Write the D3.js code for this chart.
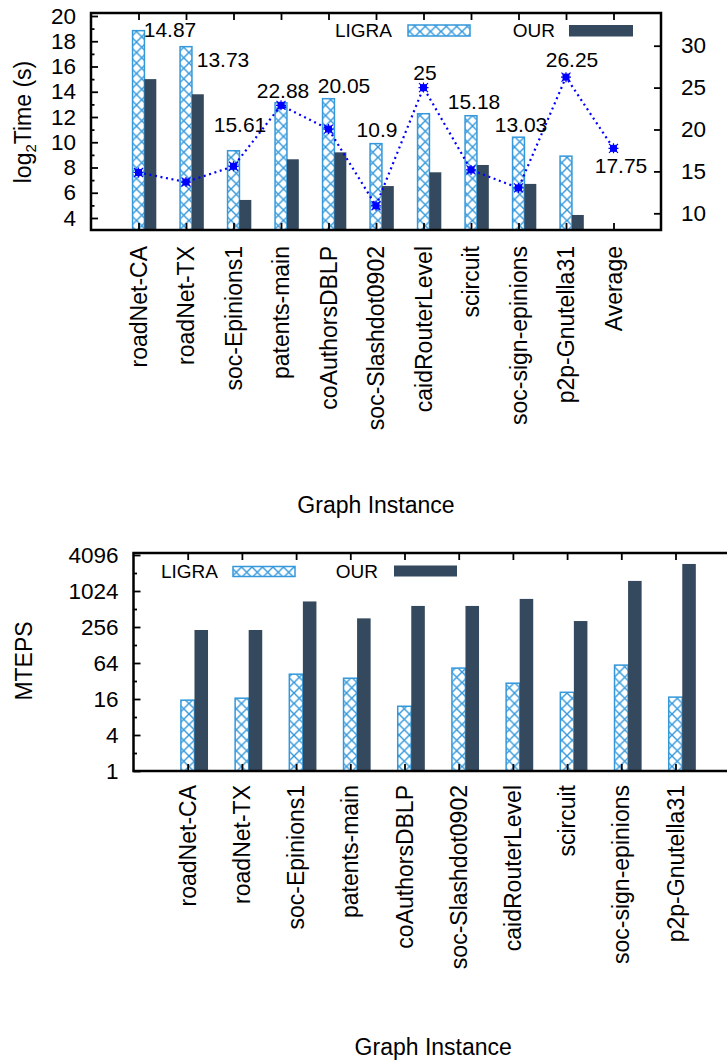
<!DOCTYPE html>
<html>
<head>
<meta charset="utf-8">
<script src="https://cdn.jsdelivr.net/npm/d3@7"></script>
<style>
  body { margin: 0; background: #fff; }
  svg { display: block; }
</style>
</head>
<body>
<div class="chart"></div>
<script>
// graph instances (top chart has an extra "Average" column)
var categories = ["roadNet-CA", "roadNet-TX", "soc-Epinions1", "patents-main", "coAuthorsDBLP",
  "soc-Slashdot0902", "caidRouterLevel", "scircuit", "soc-sign-epinions", "p2p-Gnutella31", "Average"];
var mtepsCategories = categories.slice(0, 10);

// top chart: log2 of run time, and speedup on the right axis
var ligraLog2Time = [18.84, 17.57, 9.33, 13.13, 13.45, 9.89, 12.26, 12.1, 10.4, 8.9, null];
var ourLog2Time = [15.0, 13.8, 5.43, 8.65, 9.2, 6.53, 7.62, 8.2, 6.7, 4.24, null];
var speedup = [14.87, 13.73, 15.61, 22.88, 20.05, 10.9, 25, 15.18, 13.03, 26.25, 17.75];

// bottom chart: MTEPS
var ligraMteps = [15.3, 16.5, 41.6, 35.6, 12.1, 52.6, 29.4, 20.7, 59, 17.2];
var ourMteps = [228, 228, 685, 357, 576, 576, 755, 322, 1510, 2900];

// tick labels
var leftTicks = [4, 6, 8, 10, 12, 14, 16, 18, 20];
var leftMinor = [5, 7, 9, 11, 13, 15, 17, 19];
var rightTicks = [10, 15, 20, 25, 30];
var mtepsTicks = [1, 4, 16, 64, 256, 1024, 4096];
var mtepsMinor = [2, 8, 32, 128, 512, 2048];

// where the speedup labels sit (px shift right, height in right-axis units)
var labelDx = [31.5, 37, 6.5, 2, 15.5, 1, 1.5, 3, 2.5, 6, 7.5];
var labelAt = [31.87, 28.29, 20.54, 24.59, 25.19, 19.94, 26.74, 23.28, 20.54, 28.29, 15.65];

var FONT = "'Liberation Sans', Arial, Helvetica, sans-serif";
var BLUE = "#3498db", DARK = "#34495e";

var svg = d3.select(".chart").append("svg")
    .attr("width", 727)
    .attr("height", 1061)
    .style("font-family", FONT);

svg.append("rect").attr("width", 727).attr("height", 1061).attr("fill", "#fff");

// cross hatch for the LIGRA bars
var pat = svg.append("defs").append("pattern")
    .attr("id", "hatch")
    .attr("patternUnits", "userSpaceOnUse")
    .attr("width", 10.5)
    .attr("height", 10.5);
pat.append("rect").attr("width", 10.5).attr("height", 10.5).attr("fill", "#fff");
pat.append("path")
    .attr("d", "M0,0L10.5,10.5M10.5,0L0,10.5")
    .attr("stroke", BLUE)
    .attr("stroke-width", 1.4);

function styleAxis(g, size) {
  g.attr("font-size", size).attr("font-family", FONT);
  g.select(".domain").remove();
  g.selectAll(".tick line").attr("stroke", "#000").attr("stroke-width", 1.8);
  g.selectAll(".tick text").attr("fill", "#000");
}

// ---------------- top chart ----------------
var top0 = 13, bot0 = 230, left0 = 91, right0 = 661;

var xTop = d3.scaleLinear().domain([-1, 11]).range([left0, right0]);
var yLeft = d3.scaleLinear().domain([4, 20]).range([218, 16]);
var yRight = d3.scaleLinear().domain([10, 30]).range([213.3, 45.7]);

var bw = xTop(0.25) - xTop(0);

var g1 = svg.append("g");

// LIGRA bars
g1.append("g").selectAll("rect")
  .data(categories.map(function(c, i) { return {i: i, v: ligraLog2Time[i]}; })
    .filter(function(d) { return d.v != null; }))
  .enter().append("rect")
    .attr("x", function(d) { return xTop(d.i) - bw / 2; })
    .attr("y", function(d) { return yLeft(d.v); })
    .attr("width", bw)
    .attr("height", function(d) { return bot0 - yLeft(d.v); })
    .attr("fill", "url(#hatch)")
    .attr("stroke", BLUE)
    .attr("stroke-width", 1.5);

// OUR bars
g1.append("g").selectAll("rect")
  .data(categories.map(function(c, i) { return {i: i, v: ourLog2Time[i]}; })
    .filter(function(d) { return d.v != null; }))
  .enter().append("rect")
    .attr("x", function(d) { return xTop(d.i) + bw / 2; })
    .attr("y", function(d) { return yLeft(d.v); })
    .attr("width", bw)
    .attr("height", function(d) { return bot0 - yLeft(d.v); })
    .attr("fill", DARK);

// speedup line
var line = d3.line()
    .x(function(d, i) { return xTop(i); })
    .y(function(d) { return yRight(d); });

g1.append("path")
    .datum(speedup)
    .attr("fill", "none")
    .attr("stroke", "#0000ff")
    .attr("stroke-width", 2.2)
    .attr("stroke-dasharray", "2,3.6")
    .attr("d", line);

var marks = g1.append("g").selectAll("g")
  .data(speedup)
  .enter().append("g")
    .attr("transform", function(d, i) { return "translate(" + xTop(i) + "," + yRight(d) + ")"; });
marks.append("rect")
    .attr("x", -3.5).attr("y", -3.5).attr("width", 7).attr("height", 7)
    .attr("fill", "#0000ff");
marks.append("path")
    .attr("d", "M-4.5,-4.5L4.5,4.5M4.5,-4.5L-4.5,4.5M0,-5L0,5M-5,0L5,0")
    .attr("stroke", "#0000ff")
    .attr("stroke-width", 1.2);

// speedup labels
g1.append("g").selectAll("text")
  .data(speedup)
  .enter().append("text")
    .attr("x", function(d, i) { return xTop(i) + labelDx[i]; })
    .attr("y", function(d, i) { return yRight(labelAt[i]); })
    .attr("dy", "0.35em")
    .attr("text-anchor", "middle")
    .attr("font-size", 21)
    .text(function(d) { return d; });

// axes
g1.append("g")
    .attr("transform", "translate(" + left0 + ",0)")
    .call(d3.axisLeft(yLeft).tickValues(leftTicks).tickSize(-7).tickPadding(15))
    .call(styleAxis, 22.5);
g1.append("g")
    .attr("transform", "translate(" + left0 + ",0)")
    .call(d3.axisLeft(yLeft).tickValues(leftMinor).tickSize(-3.5).tickFormat(""))
    .call(styleAxis, 22);
g1.append("g")
    .attr("transform", "translate(" + right0 + ",0)")
    .call(d3.axisRight(yRight).tickValues(rightTicks).tickSize(-7).tickPadding(20))
    .call(styleAxis, 22.5);
g1.append("g")
    .attr("transform", "translate(0," + top0 + ")")
    .call(d3.axisTop(xTop).tickValues(d3.range(categories.length)).tickSize(-7).tickFormat(""))
    .call(styleAxis, 22);
g1.append("g")
    .attr("transform", "translate(0," + bot0 + ")")
    .call(d3.axisBottom(xTop).tickValues(d3.range(categories.length)).tickSize(-7).tickFormat(""))
    .call(styleAxis, 22);

// frame
g1.append("rect")
    .attr("x", left0).attr("y", top0)
    .attr("width", right0 - left0).attr("height", bot0 - top0)
    .attr("fill", "none").attr("stroke", "#000").attr("stroke-width", 2.5);

// category labels
g1.append("g").selectAll("text")
  .data(categories)
  .enter().append("text")
    .attr("transform", function(d, i) { return "translate(" + xTop(i) + ",246) rotate(-90)"; })
    .attr("dy", "0.35em")
    .attr("text-anchor", "end")
    .attr("font-size", 23)
    .text(function(d) { return d; });

// axis titles
var yl = g1.append("text")
    .attr("transform", "translate(23,122) rotate(-90)")
    .attr("dy", "0.35em")
    .attr("text-anchor", "middle")
    .attr("font-size", 23);
yl.append("tspan").text("log");
yl.append("tspan").attr("font-size", 15).attr("dy", "0.3em").text("2");
yl.append("tspan").attr("dy", "-0.2em").text("Time (s)");

g1.append("text")
    .attr("x", (left0 + right0) / 2)
    .attr("y", 513)
    .attr("text-anchor", "middle")
    .attr("font-size", 23)
    .text("Graph Instance");

// legend
var leg1 = g1.append("g").attr("font-size", 19);
leg1.append("text").attr("x", 392).attr("y", 37).attr("text-anchor", "end").text("LIGRA");
leg1.append("rect").attr("x", 408).attr("y", 25).attr("width", 62).attr("height", 11)
    .attr("fill", "url(#hatch)").attr("stroke", BLUE).attr("stroke-width", 1.5);
leg1.append("text").attr("x", 555).attr("y", 37).attr("text-anchor", "end").text("OUR");
leg1.append("rect").attr("x", 569).attr("y", 25).attr("width", 64).attr("height", 11.5)
    .attr("fill", DARK);

// ---------------- bottom chart ----------------
var top1 = 553, bot1 = 771, left1 = 133.5, right1 = 733;

var xBot = d3.scaleLinear().domain([-1, 11]).range([left1, left1 + 12 * 54.2]);
var yBot = d3.scaleLog().base(2).domain([1, 4096]).range([771, 555]);
var bw2 = xBot(0.25) - xBot(0);

var g2 = svg.append("g");

g2.append("g").selectAll("rect")
  .data(ligraMteps)
  .enter().append("rect")
    .attr("x", function(d, i) { return xBot(i) - bw2 / 2; })
    .attr("y", function(d) { return yBot(d); })
    .attr("width", bw2)
    .attr("height", function(d) { return bot1 - yBot(d); })
    .attr("fill", "url(#hatch)")
    .attr("stroke", BLUE)
    .attr("stroke-width", 1.5);

g2.append("g").selectAll("rect")
  .data(ourMteps)
  .enter().append("rect")
    .attr("x", function(d, i) { return xBot(i) + bw2 / 2; })
    .attr("y", function(d) { return yBot(d); })
    .attr("width", bw2)
    .attr("height", function(d) { return bot1 - yBot(d); })
    .attr("fill", DARK);

g2.append("g")
    .attr("transform", "translate(" + left1 + ",0)")
    .call(d3.axisLeft(yBot).tickValues(mtepsTicks).tickSize(-7).tickPadding(15).tickFormat(d3.format("d")))
    .call(styleAxis, 22.5);
g2.append("g")
    .attr("transform", "translate(" + left1 + ",0)")
    .call(d3.axisLeft(yBot).tickValues(mtepsMinor).tickSize(-3.5).tickFormat(""))
    .call(styleAxis, 22);
g2.append("g")
    .attr("transform", "translate(0," + top1 + ")")
    .call(d3.axisTop(xBot).tickValues(d3.range(mtepsCategories.length)).tickSize(-7).tickFormat(""))
    .call(styleAxis, 22);
g2.append("g")
    .attr("transform", "translate(0," + bot1 + ")")
    .call(d3.axisBottom(xBot).tickValues(d3.range(mtepsCategories.length)).tickSize(-7).tickFormat(""))
    .call(styleAxis, 22);

g2.append("rect")
    .attr("x", left1).attr("y", top1)
    .attr("width", right1 - left1).attr("height", bot1 - top1)
    .attr("fill", "none").attr("stroke", "#000").attr("stroke-width", 2.5);

g2.append("g").selectAll("text")
  .data(mtepsCategories)
  .enter().append("text")
    .attr("transform", function(d, i) { return "translate(" + xBot(i) + ",785) rotate(-90)"; })
    .attr("dy", "0.35em")
    .attr("text-anchor", "end")
    .attr("font-size", 23)
    .text(function(d) { return d; });

g2.append("text")
    .attr("transform", "translate(24,661) rotate(-90)")
    .attr("dy", "0.35em")
    .attr("text-anchor", "middle")
    .attr("font-size", 23)
    .text("MTEPS");

g2.append("text")
    .attr("x", (left1 + right1) / 2)
    .attr("y", 1055)
    .attr("text-anchor", "middle")
    .attr("font-size", 23)
    .text("Graph Instance");

var leg2 = g2.append("g").attr("font-size", 19);
leg2.append("text").attr("x", 218).attr("y", 578).attr("text-anchor", "end").text("LIGRA");
leg2.append("rect").attr("x", 233).attr("y", 566.5).attr("width", 62).attr("height", 10)
    .attr("fill", "url(#hatch)").attr("stroke", BLUE).attr("stroke-width", 1.5);
leg2.append("text").attr("x", 378).attr("y", 578).attr("text-anchor", "end").text("OUR");
leg2.append("rect").attr("x", 394).attr("y", 565.5).attr("width", 63).attr("height", 11)
    .attr("fill", DARK);
</script>
</body>
</html>
